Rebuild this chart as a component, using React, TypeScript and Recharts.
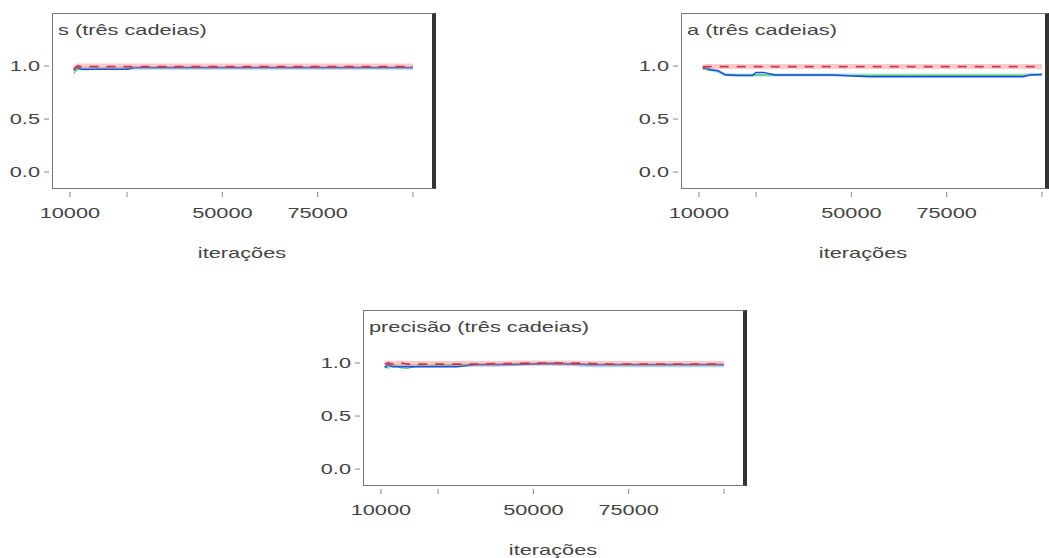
import { Line, LineChart, XAxis, YAxis } from "recharts";

// iteration grid shared by all three panels
const ITER = [11000, 12000, 13000, 15000, 17000, 20000, 22000, 24000, 25000, 27000, 30000, 35000, 40000, 45000, 50000, 55000, 60000, 65000, 70000, 75000, 80000, 85000, 90000, 95000, 97000, 100000];

const X_TICKS = [10000, 25000, 50000, 75000, 100000];
const X_LABELED = [10000, 50000, 75000];
const Y_TICKS = [0, 0.5, 1.0];

// s
const S_REF = [0.97, 1.0, 0.995, 0.995, 0.995, 0.995, 0.995, 0.995, 0.995, 0.995, 0.995, 0.995, 0.995, 0.995, 0.995, 0.995, 0.995, 0.995, 0.995, 0.995, 0.995, 0.995, 0.995, 0.995, 0.995, 0.995];
const S_BAND = [0.98, 1.0, 1.0, 1.0, 1.0, 1.0, 1.0, 1.0, 1.0, 1.0, 1.0, 1.0, 1.0, 1.0, 1.0, 1.0, 1.0, 1.0, 1.0, 1.0, 1.0, 1.0, 1.0, 1.0, 1.0, 1.0];
const S_BLUE = [0.96, 0.99, 0.97, 0.97, 0.97, 0.97, 0.97, 0.97, 0.97, 0.985, 0.985, 0.985, 0.985, 0.985, 0.985, 0.985, 0.985, 0.985, 0.985, 0.985, 0.985, 0.985, 0.985, 0.985, 0.985, 0.985];
const S_GREEN = [0.93, 0.97, 0.965, 0.965, 0.97, 0.97, 0.97, 0.97, 0.975, 0.985, 0.985, 0.985, 0.985, 0.985, 0.985, 0.985, 0.985, 0.985, 0.985, 0.985, 0.985, 0.985, 0.985, 0.985, 0.985, 0.985];
const S_CYAN = [0.95, 0.975, 0.98, 0.98, 0.98, 0.98, 0.98, 0.98, 0.98, 0.98, 0.98, 0.98, 0.98, 0.98, 0.98, 0.98, 0.98, 0.98, 0.98, 0.98, 0.98, 0.98, 0.98, 0.98, 0.98, 0.98];

// a
const A_REF = [0.99, 0.995, 0.995, 0.995, 0.995, 0.995, 0.995, 0.995, 0.995, 0.995, 0.995, 0.995, 0.995, 0.995, 0.995, 0.995, 0.995, 0.995, 0.995, 0.995, 0.995, 0.995, 0.995, 0.995, 0.995, 0.995];
const A_BAND = [0.995, 0.995, 0.995, 0.995, 0.995, 0.995, 0.995, 0.995, 0.995, 0.995, 0.995, 0.995, 0.995, 0.995, 0.995, 0.995, 0.995, 0.995, 0.995, 0.995, 0.995, 0.995, 0.995, 0.995, 0.995, 0.995];
const A_BLUE = [0.975, 0.98, 0.965, 0.955, 0.915, 0.91, 0.91, 0.91, 0.94, 0.94, 0.915, 0.915, 0.915, 0.915, 0.905, 0.9, 0.9, 0.9, 0.9, 0.9, 0.9, 0.9, 0.9, 0.9, 0.915, 0.92];
const A_GREEN = [0.99, 0.965, 0.96, 0.955, 0.92, 0.915, 0.915, 0.915, 0.915, 0.915, 0.915, 0.915, 0.915, 0.915, 0.91, 0.91, 0.91, 0.91, 0.91, 0.91, 0.91, 0.91, 0.91, 0.91, 0.915, 0.92];
const A_CYAN = [0.985, 0.975, 0.965, 0.95, 0.92, 0.915, 0.915, 0.915, 0.915, 0.915, 0.915, 0.915, 0.915, 0.915, 0.915, 0.915, 0.915, 0.915, 0.915, 0.915, 0.915, 0.915, 0.915, 0.915, 0.92, 0.92];

// precisão
const P_REF = [0.99, 1.0, 0.99, 1.0, 0.99, 0.99, 0.99, 0.995, 0.99, 0.99, 0.99, 0.99, 0.995, 0.995, 1.0, 1.0, 1.0, 0.995, 0.99, 0.99, 0.99, 0.99, 0.99, 0.99, 0.99, 0.99];
const P_BAND = [0.995, 1.0, 0.995, 1.0, 0.995, 0.995, 0.995, 0.995, 0.995, 0.995, 0.995, 0.995, 0.995, 1.0, 1.0, 1.0, 1.0, 0.995, 0.995, 0.995, 0.995, 0.995, 0.995, 0.995, 0.995, 0.995];
const P_BLUE = [0.96, 0.985, 0.965, 0.965, 0.965, 0.965, 0.965, 0.965, 0.965, 0.965, 0.965, 0.985, 0.985, 0.985, 0.99, 0.995, 0.99, 0.985, 0.985, 0.985, 0.985, 0.985, 0.985, 0.985, 0.985, 0.985];
const P_GREEN = [0.97, 0.95, 0.99, 0.955, 0.95, 0.975, 0.97, 0.975, 0.98, 0.98, 0.985, 0.985, 0.985, 0.99, 0.995, 1.0, 0.995, 0.985, 0.985, 0.985, 0.985, 0.985, 0.985, 0.985, 0.985, 0.985];
const P_CYAN = [0.955, 0.975, 0.975, 0.975, 0.975, 0.975, 0.975, 0.975, 0.975, 0.975, 0.98, 0.98, 0.98, 0.985, 0.99, 0.99, 0.985, 0.975, 0.975, 0.975, 0.975, 0.975, 0.975, 0.975, 0.975, 0.975];

const FONT = '"Liberation Sans", Arial, Helvetica, sans-serif';
const INK = "#444";
const STRETCH = 1.45;
const PLOT_H = 175;

function XTick(props: any) {
  const { x, y, payload } = props;
  const show = X_LABELED.includes(payload.value);
  return (
    <g>
      <line x1={x} x2={x} y1={y + 4} y2={y + 9} stroke="#888" strokeWidth={1} />
      {show && (
        <text
          transform={`translate(${x},${y + 30}) scale(${STRETCH},1)`}
          textAnchor="middle"
          fontSize={15}
          fontFamily={FONT}
          fill={INK}
        >
          {payload.value}
        </text>
      )}
    </g>
  );
}

function YTick(props: any) {
  const { x, y, payload } = props;
  return (
    <g>
      <line x1={x - 8} x2={x - 3} y1={y} y2={y} stroke="#888" strokeWidth={1} />
      <text
        transform={`translate(${x - 12},${y + 5}) scale(${STRETCH},1)`}
        textAnchor="end"
        fontSize={15}
        fontFamily={FONT}
        fill={INK}
      >
        {Number(payload.value).toFixed(1)}
      </text>
    </g>
  );
}

function Stretched({ left, top, center, children }: any) {
  return (
    <div
      style={{
        position: "absolute",
        left,
        top,
        fontFamily: FONT,
        fontSize: 15,
        lineHeight: "16px",
        color: INK,
        whiteSpace: "nowrap",
        transform: center ? `translateX(-50%) scaleX(${STRETCH})` : `scaleX(${STRETCH})`,
        transformOrigin: center ? "center" : "left",
      }}
    >
      {children}
    </div>
  );
}

function Panel({
  boxLeft,
  boxTop,
  plotW,
  xMax,
  title,
  refLine,
  band,
  blue,
  green,
  cyan,
}: {
  boxLeft: number;
  boxTop: number;
  plotW: number;
  xMax: number;
  title: string;
  refLine: number[];
  band: number[];
  blue: number[];
  green: number[];
  cyan: number[];
}) {
  const data = ITER.map((it, i) => ({
    iter: it,
    ref: refLine[i],
    band: band[i],
    blue: blue[i],
    green: green[i],
    cyan: cyan[i],
  }));
  const right = 4;
  return (
    <>
      <div style={{ position: "absolute", left: boxLeft - 52, top: boxTop - 13 }}>
        <LineChart
          width={52 + plotW + right}
          height={13 + PLOT_H + 80}
          data={data}
          margin={{ top: 13, right, bottom: 0, left: 0 }}
        >
          <XAxis
            dataKey="iter"
            type="number"
            domain={[5300, xMax]}
            ticks={X_TICKS}
            allowDataOverflow
            axisLine={false}
            tickLine={false}
            tickSize={0}
            tickMargin={0}
            height={80}
            interval={0}
            tick={<XTick />}
          />
          <YAxis
            type="number"
            domain={[-0.15, 1.5]}
            ticks={Y_TICKS}
            allowDataOverflow
            axisLine={false}
            tickLine={false}
            tickSize={0}
            tickMargin={0}
            width={52}
            interval={0}
            tick={<YTick />}
          />
          <Line dataKey="cyan" stroke="rgba(110,190,215,0.6)" strokeWidth={3} dot={false} isAnimationActive={false} />
          <Line dataKey="green" stroke="#2ecc40" strokeWidth={1} dot={false} isAnimationActive={false} />
          <Line dataKey="blue" stroke="#1f4fe0" strokeWidth={1.5} dot={false} isAnimationActive={false} />
          <Line dataKey="band" stroke="rgba(255,120,120,0.4)" strokeWidth={5} dot={false} isAnimationActive={false} />
          <Line
            dataKey="ref"
            stroke="#c03a55"
            strokeWidth={1.8}
            strokeDasharray="9 8"
            dot={false}
            isAnimationActive={false}
          />
        </LineChart>
      </div>
      {/* panel frame: thin border with a heavy right edge */}
      <div
        style={{
          position: "absolute",
          left: boxLeft,
          top: boxTop,
          width: plotW + 4,
          height: PLOT_H + 1,
          boxSizing: "border-box",
          borderTop: "1px solid #777",
          borderLeft: "1px solid #777",
          borderBottom: "1px solid #777",
          borderRight: "4px solid #333",
          pointerEvents: "none",
        }}
      />
      <Stretched left={boxLeft + 6} top={boxTop + 9}>
        {title}
      </Stretched>
      <Stretched left={boxLeft + plotW / 2} top={boxTop + PLOT_H + 57} center>
        iterações
      </Stretched>
    </>
  );
}

export default function App() {
  return (
    <div
      style={{
        position: "absolute",
        left: 0,
        top: 0,
        width: 1049,
        height: 558,
        overflow: "hidden",
        background: "#fff",
      }}
    >
      <Panel boxLeft={52} boxTop={13} plotW={380} xMax={105000} title="s (três cadeias)"
        refLine={S_REF} band={S_BAND} blue={S_BLUE} green={S_GREEN} cyan={S_CYAN} />
      <Panel boxLeft={681} boxTop={13} plotW={364} xMax={100800} title="a (três cadeias)"
        refLine={A_REF} band={A_BAND} blue={A_BLUE} green={A_GREEN} cyan={A_CYAN} />
      <Panel boxLeft={363} boxTop={310} plotW={380} xMax={105000} title="precisão (três cadeias)"
        refLine={P_REF} band={P_BAND} blue={P_BLUE} green={P_GREEN} cyan={P_CYAN} />
    </div>
  );
}
